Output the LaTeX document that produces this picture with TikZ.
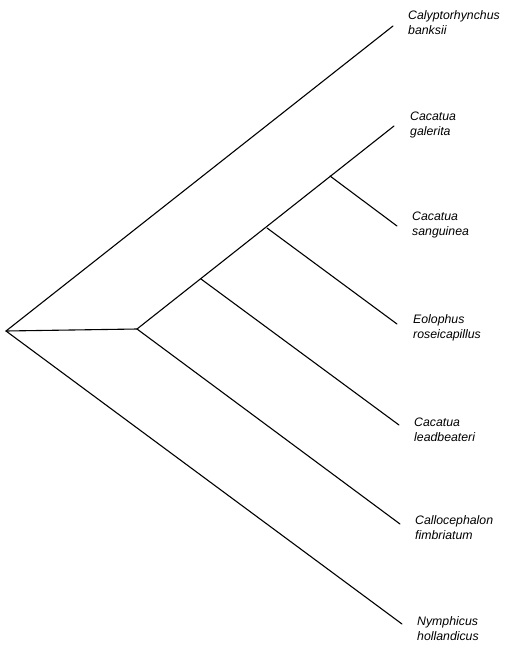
\documentclass[tikz,border=0pt]{standalone}
\usepackage{fontspec}
\setmainfont{Liberation Sans}
\begin{document}
\begin{tikzpicture}[x=1pt,y=-1pt,
  branch/.style={line width=1.1pt,line cap=round,line join=round},
  taxon/.style={anchor=west,align=left,inner sep=0pt,font=\fontsize{12.3}{15}\selectfont\itshape}]
\useasboundingbox (0,0) rectangle (505,645);
% tips
\coordinate (A) at (393,26);
\coordinate (B) at (394,126);
\coordinate (C) at (397,226);
\coordinate (D) at (397,324);
\coordinate (E) at (399,425);
\coordinate (F) at (400,524);
\coordinate (G) at (402,624);
% internal nodes
\coordinate (R) at (6,331);
\coordinate (I1) at (137,329);
\coordinate (J1) at (201,279);
\coordinate (J2) at (267,228);
\coordinate (J3) at (330,176);
% branches
\draw[branch] (R) -- (A);
\draw[branch] (R) -- (I1);
\draw[branch] (R) -- (G);
\draw[branch] (I1) -- (B);
\draw[branch] (I1) -- (F);
\draw[branch] (J1) -- (E);
\draw[branch] (J2) -- (D);
\draw[branch] (J3) -- (C);
% labels
\node[taxon] (tA) at (408,23) {Calyptorhynchus\\banksii};
\node[taxon] (tB) at (410,125) {Cacatua\\galerita};
\node[taxon] (tC) at (412,225) {Cacatua\\sanguinea};
\node[taxon] (tD) at (413,328) {Eolophus\\roseicapillus};
\node[taxon] (tE) at (414,430) {Cacatua\\leadbeateri};
\node[taxon] (tF) at (415,528) {Callocephalon\\fimbriatum};
\node[taxon] (tG) at (417,629) {Nymphicus\\hollandicus};
\end{tikzpicture}
\end{document}
